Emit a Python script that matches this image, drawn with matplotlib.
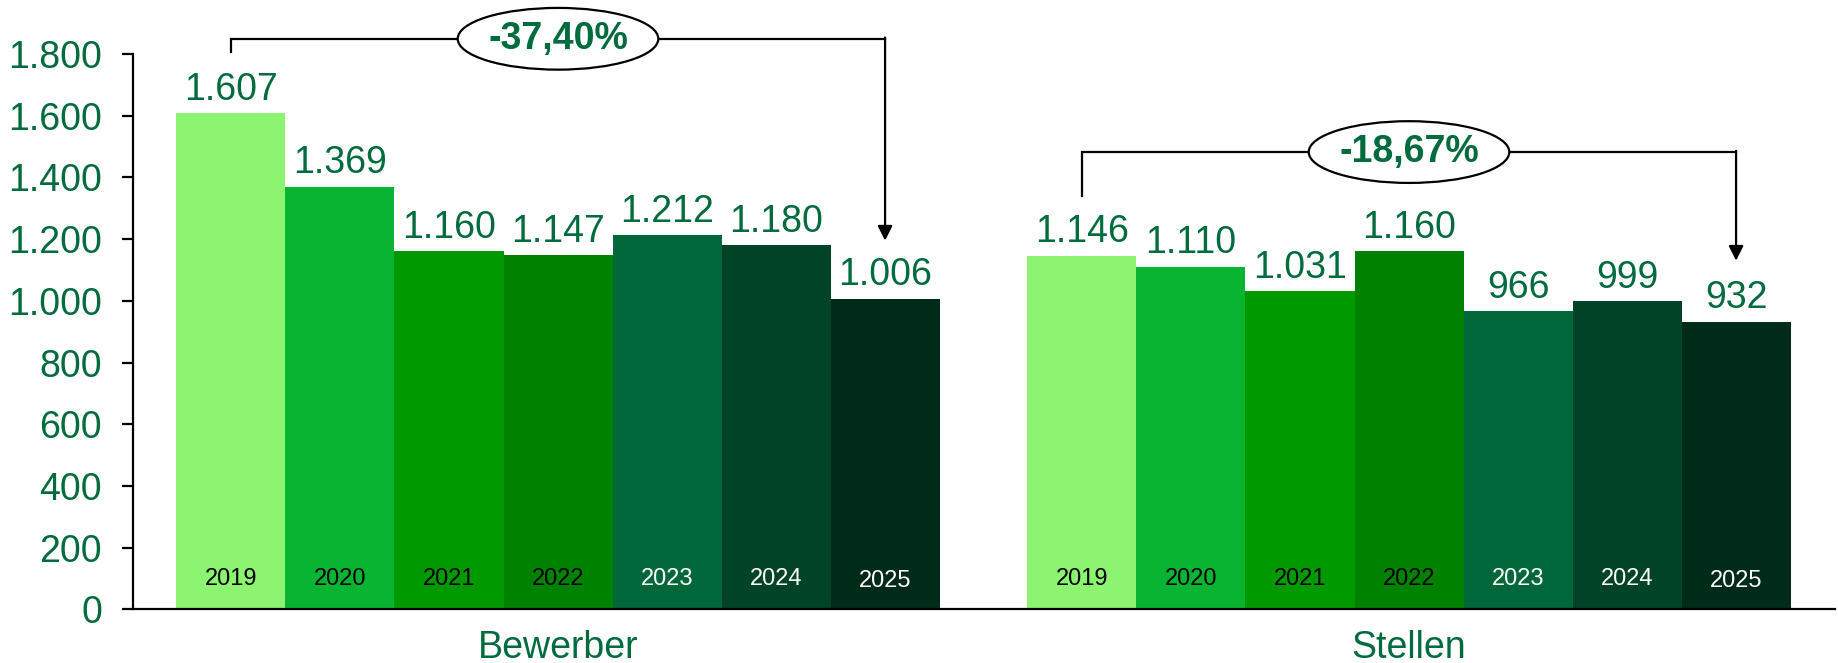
import matplotlib
matplotlib.use("Agg")
import matplotlib.pyplot as plt
from matplotlib.patches import Ellipse

plt.rcParams['font.family'] = ['Liberation Sans', 'DejaVu Sans']

# Daten
categories = ["Bewerber", "Stellen"]
years = ["2019", "2020", "2021", "2022", "2023", "2024", "2025"]
bewerber = [1607, 1369, 1160, 1147, 1212, 1180, 1006]
stellen = [1146, 1110, 1031, 1160, 966, 999, 932]
changes = ["-37,40%", "-18,67%"]

colors = ["#8df472", "#08b432", "#009a00", "#008200", "#00673a", "#004326", "#002b19"]
year_colors = ["black", "black", "black", "black", "white", "white", "white"]
green = "#006b3c"

# Klammer: (Hoehe Linie, Ende linker Strich, Pfeilspitze)
brackets = [(1849, 1806, 1195), (1482, 1340, 1130)]

gap = 0.806
group_w = 7 + gap

fig = plt.figure(figsize=(18.38, 6.63), dpi=100)
ax = fig.add_axes([0.0721, 0.0807, 0.926, 0.838])

for g, values in enumerate([bewerber, stellen]):
    start = g * group_w
    xs = [start + i + 0.5 for i in range(len(values))]
    ax.bar(xs, values, width=1.0, color=colors, edgecolor="none")
    for i, (x, v) in enumerate(zip(xs, values)):
        ax.annotate(f"{v:,}".replace(",", "."), (x, v), xytext=(0, 4),
                    textcoords="offset points", ha="center", va="bottom",
                    fontsize=27, color=green)
        yy = 92 if i == 6 else 100
        ax.text(x, yy, years[i], ha="center", va="center", fontsize=17,
                color=year_colors[i])

    # Klammer mit Pfeil
    line_y, stub_y, tip_y = brackets[g]
    x0, x1 = xs[0], xs[-1]
    ax.plot([x0, x0, x1], [stub_y, line_y, line_y], color="black", lw=1.6,
            clip_on=False, solid_joinstyle="miter")
    ax.annotate("", xy=(x1, tip_y), xytext=(x1, line_y + 4),
                arrowprops=dict(arrowstyle="-|>", color="black", lw=1.6,
                                mutation_scale=22, shrinkA=0, shrinkB=0),
                annotation_clip=False)
    cx = start + 3.5
    ax.add_patch(Ellipse((cx, line_y), 1.84, 200, facecolor="white",
                         edgecolor="black", lw=1.6, clip_on=False, zorder=5))
    ax.text(cx, line_y, changes[g], ha="center", va="center", fontsize=27,
            fontweight="bold", color=green, zorder=6)

ax.set_xlim(-0.403, 2 * group_w - 0.403)
ax.set_ylim(0, 1800)
ax.set_yticks(range(0, 1801, 200))
ax.set_yticklabels([f"{t:,}".replace(",", ".") for t in range(0, 1801, 200)],
                   fontsize=27, color=green)
ax.tick_params(axis="y", length=8, width=1.6, pad=14)

ax.set_xticks([3.5, 3.5 + group_w])
ax.set_xticklabels(categories, fontsize=27, color=green)
ax.tick_params(axis="x", length=0, pad=15)

ax.spines["top"].set_visible(False)
ax.spines["right"].set_visible(False)
ax.spines["left"].set_linewidth(1.6)
ax.spines["bottom"].set_linewidth(1.6)

fig.savefig("out.png", dpi=100)
